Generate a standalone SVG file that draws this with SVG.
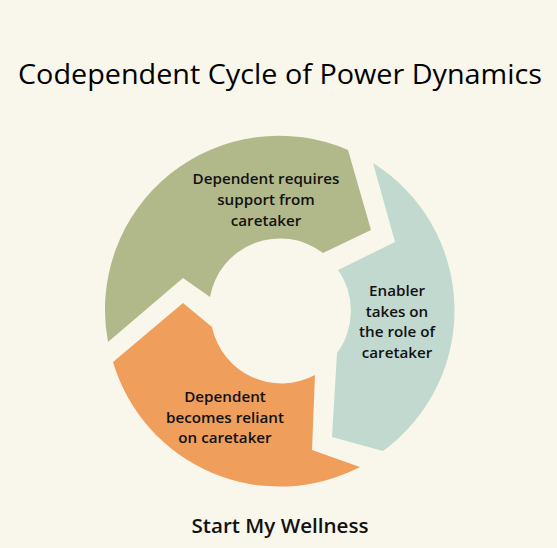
<svg xmlns="http://www.w3.org/2000/svg" width="557" height="548" viewBox="0 0 557 548">
<style>
.lbl{font-family:"Open Sans","Noto Sans","Liberation Sans",sans-serif;font-size:15.2px;fill:#111;text-anchor:middle;font-weight:600}
.title{font-family:"Open Sans","Noto Sans","Liberation Sans",sans-serif;font-size:28px;fill:#000;text-anchor:middle;font-weight:500}
.foot{font-family:"Open Sans","Noto Sans","Liberation Sans",sans-serif;font-size:20px;fill:#111;text-anchor:middle;font-weight:600}
</style>
<rect width="557" height="548" fill="#f9f7ec"/>
<text class="title" x="280" y="84" textLength="524" lengthAdjust="spacingAndGlyphs">Codependent Cycle of Power Dynamics</text>
<g id="connectors"></g>
<g id="node-green">
<path d="M108,342 A174,174 0 0 1 348,150 L371,230 L323,253 A71,71 0 0 0 210,297 L183,278 Z" fill="#b1b98a"/>
<text class="lbl" x="266" y="184">Dependent requires</text>
<text class="lbl" x="266" y="205">support from</text>
<text class="lbl" x="266" y="226">caretaker</text>
</g>
<g id="node-teal">
<path d="M373,163 A174,174 0 0 1 383,451 L332,437 L337,353 A71,71 0 0 0 338,270 L395,242 Z" fill="#c1d9cf"/>
<text class="lbl" x="397" y="296">Enabler</text>
<text class="lbl" x="397" y="317">takes on</text>
<text class="lbl" x="397" y="337">the role of</text>
<text class="lbl" x="397" y="358">caretaker</text>
</g>
<g id="node-orange">
<path d="M183,303 L113,362 A174,174 0 0 0 360,467 L312,450 L315,375 A71,71 0 0 1 212,327 Z" fill="#ef9e5c"/>
<text class="lbl" x="225" y="402">Dependent</text>
<text class="lbl" x="225" y="423">becomes reliant</text>
<text class="lbl" x="225" y="443">on caretaker</text>
</g>
<text class="foot" x="280" y="533" textLength="177" lengthAdjust="spacingAndGlyphs">Start My Wellness</text>
</svg>
